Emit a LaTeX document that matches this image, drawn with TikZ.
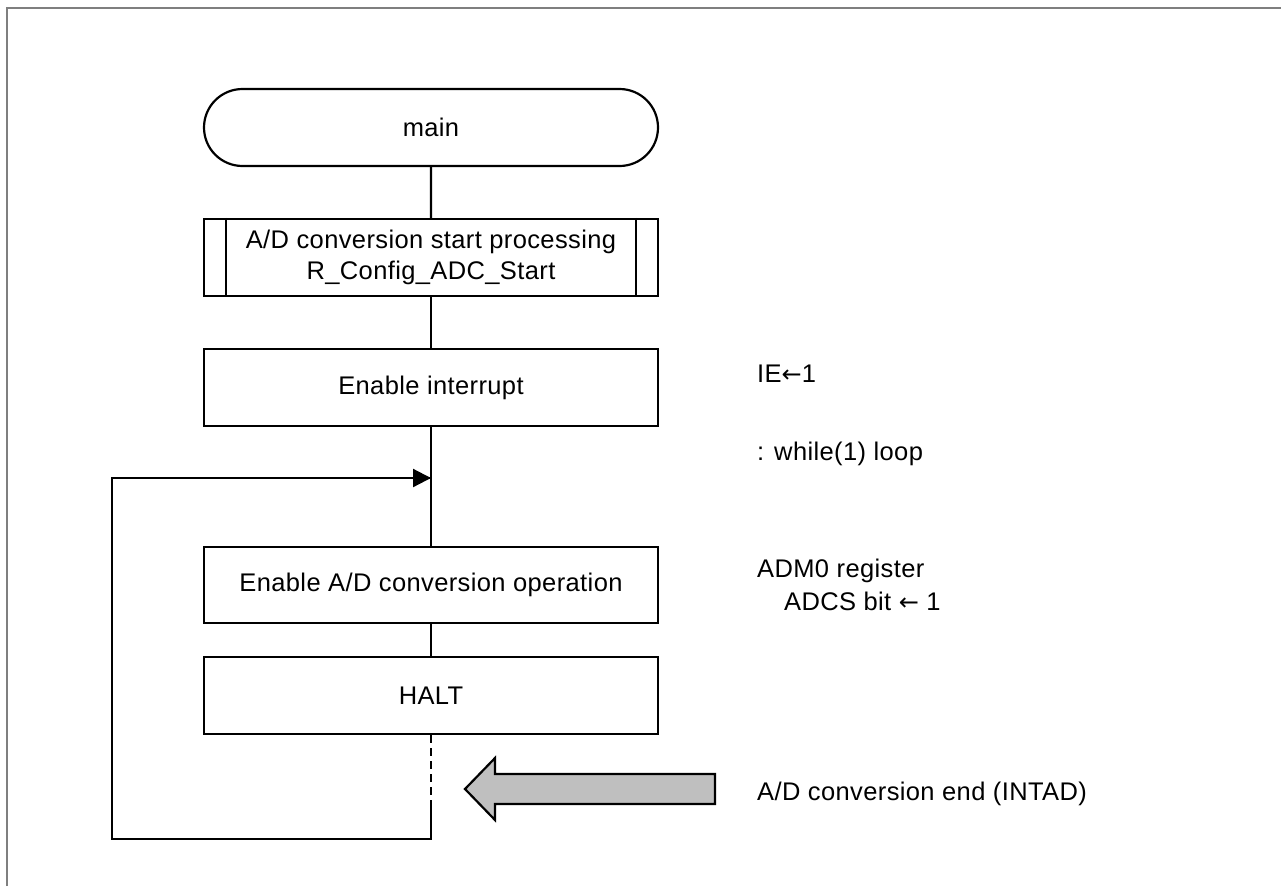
\documentclass[tikz,border=0pt]{standalone}
\usepackage{fontspec}
\setmainfont{Liberation Sans}[LetterSpace=1.5]
\newfontfamily\arrowfont{DejaVu Sans}
\newcommand{\larr}{{\arrowfont\fontsize{24}{28}\selectfont ←}}
\usetikzlibrary{arrows.meta,shapes.misc}
\definecolor{framegray}{HTML}{7F7F7F}
\definecolor{arrowgray}{HTML}{BFBFBF}
\begin{document}
\begin{tikzpicture}[x=1pt,y=-1pt,
  every node/.style={font=\fontsize{25.5}{31}\selectfont},
  box/.style={draw,line width=2.2pt,minimum width=454pt,minimum height=77pt,inner sep=0pt,align=center},
  term/.style={box,rounded rectangle},
  flow/.style={line width=2.2pt},
  note/.style={anchor=base west,inner sep=0pt}]
\useasboundingbox (0,0) rectangle (1281,886);
\draw[framegray,line width=2pt] (7,886) -- (7,8) -- (1281,8);

\node[term] (main) at (431,127.5) {main};
\node[box] (sub) at (431,257.5) {A/D conversion start processing\\R\_Config\_ADC\_Start};
\draw[line width=2.2pt] ([xshift=23pt]sub.north west) -- ([xshift=23pt]sub.south west);
\draw[line width=2.2pt] ([xshift=-23pt]sub.north east) -- ([xshift=-23pt]sub.south east);
\node[box] (ei) at (431,387.5) {Enable interrupt};
\node[box,minimum height=76pt] (ead) at (431,585) {Enable A/D conversion operation};
\node[box] (halt) at (431,695.5) {HALT};

\coordinate (loopin) at (431,478);
\coordinate (dashend) at (431,807);
\coordinate (bot) at (431,839);
\coordinate (leftx) at (112,839);

\draw[flow] (main) -- (sub);
\draw[flow] (sub) -- (ei);
\draw[flow] (ei) -- (ead);
\draw[flow] (ead) -- (halt);
\draw[flow,dash pattern=on 8pt off 5pt] (halt.south) -- (dashend);
\draw[flow,line join=miter] (dashend) -- (bot) -- (leftx) |- (loopin);
\draw[flow,-{Triangle[length=18pt,width=18pt]}] (leftx |- loopin) -- (loopin);

\draw[line width=2.2pt,fill=arrowgray,line join=miter] (715,774) -- (495,774) -- (495,758) -- (465,789) -- (495,820) -- (495,804) -- (715,804) -- cycle;

\node[note] (n1) at (757,382) {IE\larr1};
\node[note] (n2) at (757,460) {: while(1) loop};
\node[note] (n3) at (757,577) {ADM0 register};
\node[note] (n4) at (784,610) {ADCS bit \larr\ 1};
\node[note] (n5) at (757,800) {A/D conversion end (INTAD)};
\end{tikzpicture}
\end{document}
